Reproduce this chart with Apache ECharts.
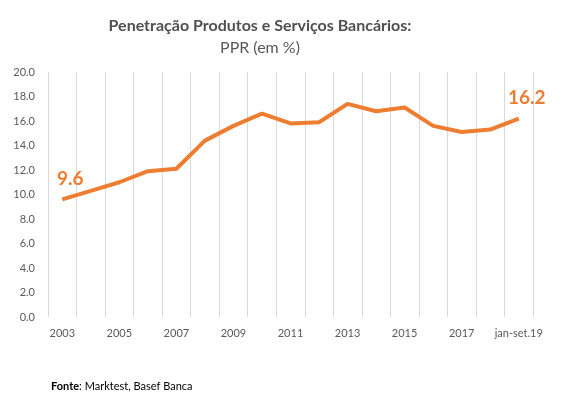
<!DOCTYPE html>
<html>
<head>
<meta charset="utf-8">
<script src="https://cdn.jsdelivr.net/npm/echarts@6/dist/echarts.min.js"></script>
<style>
html, body { margin: 0; padding: 0; background: #fff; }
#chart { width: 567px; height: 399px; }
</style>
</head>
<body>
<div id="chart"></div>
<script>
// categorias e valores (PPR, em %)
var anos = ['2003', '2004', '2005', '2006', '2007', '2008', '2009', '2010', '2011',
	'2012', '2013', '2014', '2015', '2016', '2017', '2018', 'jan-set.19'];
var ppr = [9.6, 10.3, 11.0, 11.9, 12.1, 14.4, 15.6, 16.6, 15.8,
	15.9, 17.4, 16.8, 17.1, 15.6, 15.1, 15.3, 16.2];

var fonte = 'Lato';
var cinza = '#595959';
var laranja = '#ED7D31';

// so o primeiro e o ultimo ponto levam etiqueta
var pontos = [];
for (var i = 0; i < ppr.length; i++) {
	pontos.push({
		value: ppr[i],
		label: { show: i === 0 || i === ppr.length - 1 }
	});
}

var myChart = echarts.init(document.getElementById('chart'));
var option = {
	animation: false,
	title: [
		{
			text: 'Penetração Produtos e Serviços Bancários:',
			left: 255,
			top: 13,
			textAlign: 'center',
			textStyle: { color: '#505050', fontFamily: fonte, fontWeight: 'bold', fontSize: 16 }
		},
		{
			text: 'PPR (em %)',
			left: 255,
			top: 35,
			textAlign: 'center',
			textStyle: { color: cinza, fontFamily: fonte, fontWeight: 'normal', fontSize: 16 }
		},
		{
			text: '{b|Fonte}: Marktest, Basef Banca',
			left: 46,
			top: 376,
			textStyle: {
				color: '#000',
				fontFamily: fonte,
				fontWeight: 'normal',
				fontSize: 11,
				rich: { b: { fontWeight: 'bold', fontFamily: fonte, fontSize: 11, color: '#000' } }
			}
		}
	],
	grid: {
		left: 48,
		right: 34,
		top: 72,
		bottom: 82
	},
	xAxis: {
		type: 'category',
		boundaryGap: true,
		data: anos,
		axisLine: { show: false },
		axisTick: { show: false },
		axisLabel: {
			interval: 1,
			margin: 11,
			color: cinza,
			fontFamily: fonte,
			fontSize: 11
		},
		splitLine: {
			show: true,
			interval: 0,
			lineStyle: { color: '#d9d9d9', width: 1 }
		}
	},
	yAxis: {
		type: 'value',
		min: 0,
		max: 20,
		interval: 2,
		axisLine: { show: false },
		axisTick: { show: false },
		splitLine: { show: false },
		axisLabel: {
			margin: 13,
			color: cinza,
			fontFamily: fonte,
			fontSize: 11,
			formatter: function (v) { return v.toFixed(1); }
		}
	},
	series: [
		{
			name: 'PPR',
			type: 'line',
			data: pontos,
			symbol: 'circle',
			symbolSize: 0,
			lineStyle: { color: laranja, width: 4 },
			itemStyle: { color: laranja },
			label: {
				show: false,
				position: 'top',
				distance: 5,
				offset: [8, -6],
				formatter: function (p) { return p.value.toFixed(1); },
				color: laranja,
				fontFamily: fonte,
				fontWeight: 'bold',
				fontSize: 19
			}
		}
	]
};
myChart.setOption(option);
</script>
</body>
</html>
